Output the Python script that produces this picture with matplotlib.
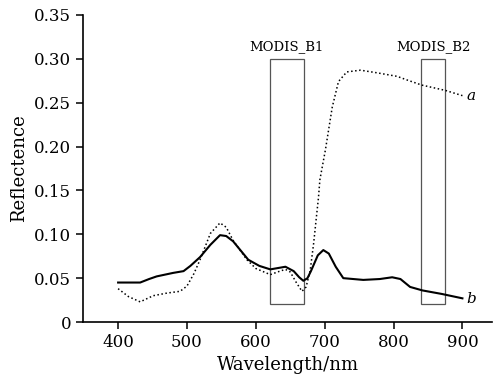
import matplotlib
matplotlib.use("Agg")
import matplotlib.pyplot as plt
from matplotlib.patches import Rectangle
from matplotlib.ticker import FuncFormatter

# curve a (dotted)
wl_a = [400, 415, 432, 451, 471, 490, 500, 510, 519, 534, 548, 557, 567, 587, 600,
        621, 635, 643, 650, 658, 667, 673, 679, 684, 688, 691, 693, 701, 711, 720,
        732, 752, 776, 805, 819, 841, 875, 900]
ref_a = [0.038, 0.029, 0.023, 0.030, 0.033, 0.035, 0.041, 0.055, 0.071, 0.101, 0.113, 0.108,
         0.093, 0.071, 0.061, 0.054, 0.058, 0.060, 0.057, 0.046, 0.035, 0.040, 0.059, 0.090,
         0.120, 0.142, 0.162, 0.196, 0.245, 0.274, 0.285, 0.287, 0.284, 0.280, 0.276, 0.270,
         0.264, 0.258]

# curve b (solid)
wl_b = [400, 410, 432, 445, 456, 480, 495, 505, 519, 534, 548, 557, 567, 589, 605, 621,
        643, 655, 663, 669, 675, 680, 690, 698, 706, 716, 727, 756, 780, 798, 810, 824,
        842, 870, 900]
ref_b = [0.045, 0.045, 0.045, 0.049, 0.052, 0.056, 0.058, 0.064, 0.074, 0.088, 0.099, 0.098,
         0.092, 0.071, 0.064, 0.060, 0.063, 0.058, 0.051, 0.047, 0.050, 0.058, 0.076, 0.082,
         0.078, 0.063, 0.050, 0.048, 0.049, 0.051, 0.049, 0.040, 0.036, 0.032, 0.027]

# MODIS bands: (name, start, end)
bands = [("MODIS_B1", 620, 670), ("MODIS_B2", 840, 875)]
band_bottom, band_top = 0.02, 0.30

plt.rcParams["font.family"] = ["DejaVu Serif"]

fig = plt.figure(figsize=(4.94, 3.82), dpi=100)
ax = fig.add_axes([0.168, 0.157, 0.828, 0.804])

ax.plot(wl_a, ref_a, color="black", ls=":", lw=1.1)
ax.plot(wl_b, ref_b, color="black", ls="-", lw=1.5)

for name, x0, x1 in bands:
    ax.add_patch(Rectangle((x0, band_bottom), x1 - x0, band_top - band_bottom,
                           fill=False, edgecolor="#555555", lw=0.9))
    ax.text((x0 + x1) / 2, band_top + 0.006, name, ha="center", va="bottom", fontsize=9.5)

ax.text(906, 0.258, "a", style="italic", fontsize=11, va="center")
ax.text(906, 0.026, "b", style="italic", fontsize=11, va="center")

ax.set_xlim(349, 943)
ax.set_ylim(0, 0.35)
ax.set_xticks([400, 500, 600, 700, 800, 900])
ax.set_yticks([0, 0.05, 0.10, 0.15, 0.20, 0.25, 0.30, 0.35])
ax.yaxis.set_major_formatter(FuncFormatter(lambda v, p: "0" if v == 0 else f"{v:.2f}"))
ax.spines["top"].set_visible(False)
ax.spines["right"].set_visible(False)
for s in ("left", "bottom"):
    ax.spines[s].set_linewidth(1.2)
ax.tick_params(direction="out", length=5, width=1.1, labelsize=12)
ax.set_xlabel("Wavelength/nm", fontsize=13)
ax.set_ylabel("Reflectence", fontsize=13)

fig.savefig("out.png", dpi=100)
